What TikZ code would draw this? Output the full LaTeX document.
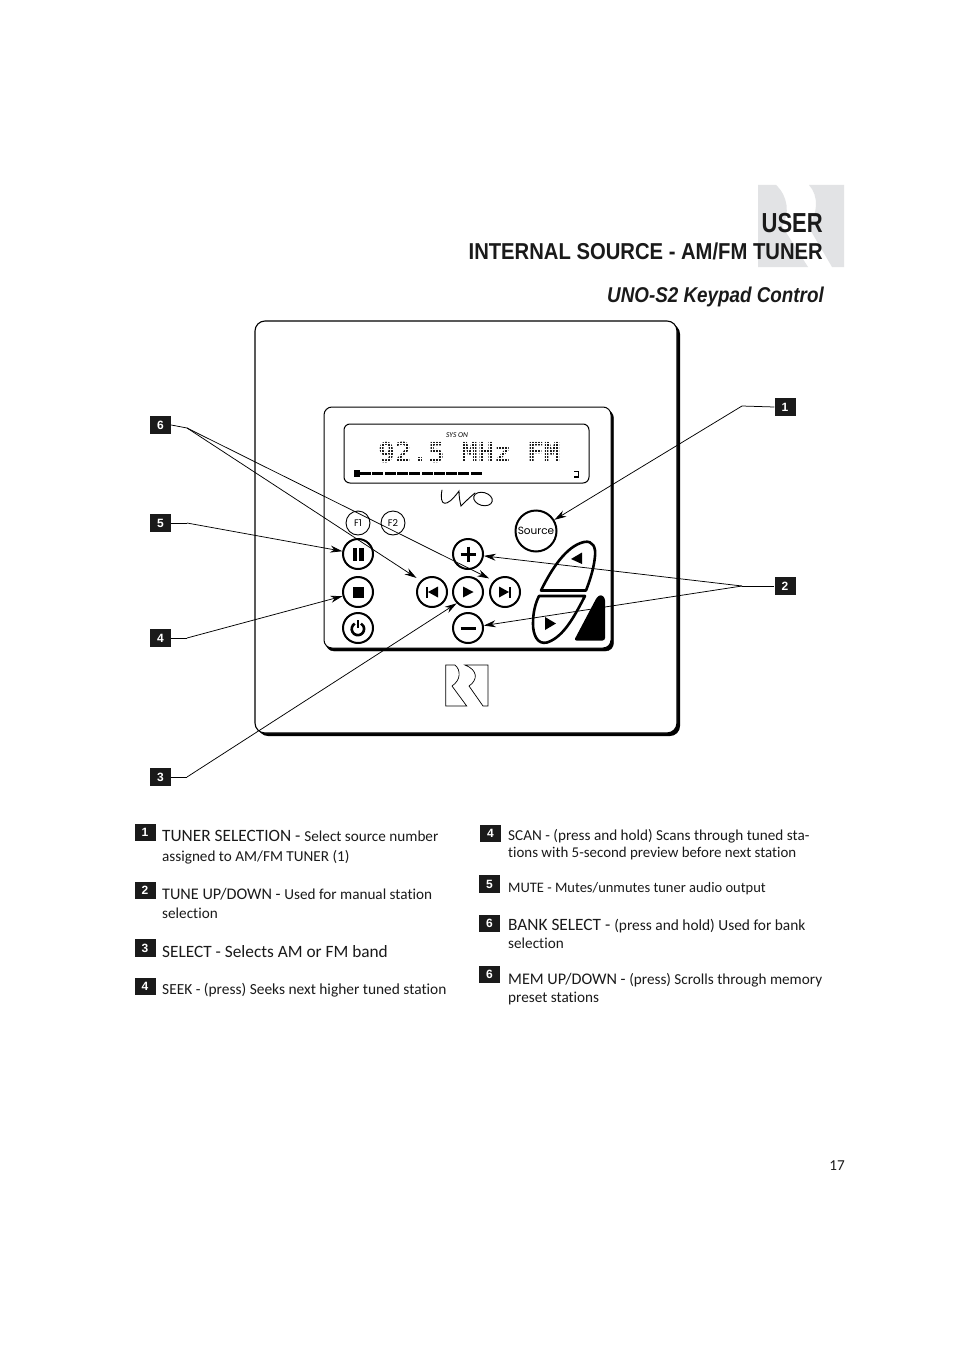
\documentclass[tikz,border=0pt]{standalone}
\usepackage{fontspec}
\setmainfont[RawFeature={-liga}]{Carlito}
\newfontfamily\headfont[FakeStretch=0.88]{Liberation Sans}
\newfontfamily\userfont[FakeStretch=0.8]{Liberation Sans}
\newfontfamily\numfont{Liberation Sans}
\newfontfamily\lcdfont{DejaVu Sans Mono}
\newfontfamily\keyfont{Poppins}
\usetikzlibrary{arrows.meta}
\definecolor{ink}{HTML}{1A1A1A}
\definecolor{logogray}{HTML}{E2E3E5}
\newcommand{\bigtxt}{\fontsize{17.3}{20}\selectfont}
\newcommand{\midtxt}{\fontsize{16.2}{20}\selectfont}
\newcommand{\smalltxt}{\fontsize{15.2}{18}\selectfont}
\newcommand{\widetxt}{\fontsize{15.4}{18}\selectfont}
\newcommand{\tionstxt}{\fontsize{14.9}{18}\selectfont}
\newcommand{\tinytxt}{\fontsize{14.5}{18}\selectfont}
\tikzset{
  legendtxt/.style={anchor=base west,inner sep=0pt,text=ink},
  numbox/.style={fill=ink,text=white,inner sep=0pt,minimum width=21pt,minimum height=17.5pt,font=\numfont\bfseries\fontsize{12}{12}\selectfont},
  keybtn/.style={circle,draw=black,line width=2pt,fill=white,inner sep=0pt,minimum size=30pt},
  fbtn/.style={circle,draw=black,line width=.9pt,inner sep=0pt,minimum size=24pt,font=\keyfont\fontsize{9.5}{9.5}\selectfont},
  conn/.style={draw=black,line width=.75pt},
  tipped/.style={conn,-{Stealth[length=12pt,width=7pt]}},
  headtxt/.style={anchor=base east,inner sep=0pt,text=ink}
}
\begin{document}
\begin{tikzpicture}[x=1pt,y=-1pt]
\useasboundingbox (0,0) rectangle (954,1351);
\fill[white] (0,0) rectangle (954,1351);
% grey logo behind the heading
\fill[logogray] (758,185) -- (776,185) .. controls (788,196) and (790,214) .. (782,226) -- (808,267) -- (758,267) -- cycle;
\fill[logogray] (809,185) -- (844,185) -- (844,267) -- (832,267) -- (808,226) .. controls (818,214) and (819,196) .. (809,185) -- cycle;
% heading
\node[headtxt,font=\userfont\bfseries\fontsize{27.5}{28}\selectfont] (huser) at (823,233) {USER};
\node[headtxt,font=\headfont\bfseries\fontsize{23}{23}\selectfont] (hsrc) at (823,259) {INTERNAL SOURCE - AM/FM TUNER};
\node[headtxt,font=\headfont\bfseries\itshape\fontsize{21.4}{21}\selectfont] (hkey) at (824,302) {UNO-S2 Keypad Control};
% wall plate
\fill[black,rounded corners=10pt] (258,324) rectangle (680,736);
\draw[fill=white,line width=1.1pt,rounded corners=10pt] (255,321) rectangle (677,733);
% keypad
\draw[black,fill=black,rounded corners=8pt] (326,410) rectangle (613.5,651);
\draw[fill=white,line width=1pt,rounded corners=8pt] (324,407) rectangle (611,648);
% display
\draw[fill=white,line width=1pt,rounded corners=6pt] (344,424) rectangle (589,483);
\node[inner sep=0pt,font=\itshape\fontsize{7.5}{8}\selectfont] (syson) at (457,435) {SYS ON};
\node[inner sep=0pt,anchor=base,font=\lcdfont\bfseries\fontsize{27.5}{27}\selectfont,text=ink] (lcd) at (469.5,462) {92.5 MHz FM};
\foreach \g in {0,...,61} \draw[white,line width=.5pt] (378+\g*3,440) -- (378+\g*3,465);
\foreach \g in {0,...,8} \draw[white,line width=.5pt] (376,440.5+\g*3) -- (562,440.5+\g*3);
\fill[black] (354,470) rectangle (360,477);
\foreach \g in {0,...,9} \fill[black] (360+\g*12.3,472.2) rectangle ++(11,2.3);
\draw[line width=1.1pt] (574,471.5) -- (578.5,471.5) -- (578.5,477) -- (574,477);
% uno logo
\draw[line width=.9pt,line cap=round] (442,490) .. controls (439,506) and (446,509) .. (459,491) .. controls (459,497) and (460,502) .. (461,506) .. controls (465,502) and (470,497) .. (475,493);
\draw[line width=.9pt,rotate around={-15:(483,499)}] (483,499) ellipse[x radius=9.5pt,y radius=6.5pt];
% buttons
\node[fbtn] (f1) at (358,523) {F1};
\node[fbtn] (f2) at (393,523) {F2};
\node[keybtn] (pause) at (358,554) {};
\node[keybtn] (stopb) at (358,592) {};
\node[keybtn] (power) at (358,628) {};
\node[keybtn] (plus) at (468,554) {};
\node[keybtn] (prev) at (432,592) {};
\node[keybtn] (play) at (468,592) {};
\node[keybtn] (next) at (505,592) {};
\node[keybtn] (minus) at (468,628) {};
\node[circle,draw=black,line width=2pt,inner sep=0pt,minimum size=41pt,font=\keyfont\fontsize{10.5}{11}\selectfont] (source) at (536,531) {Source};
% button glyphs
\fill ([shift={(-5.5,-6.5)}]pause.center) rectangle ++(4.2,13);
\fill ([shift={(1.3,-6.5)}]pause.center) rectangle ++(4.2,13);
\fill ([shift={(-5.5,-5.5)}]stopb.center) rectangle ++(11,11);
\draw[line width=2.6pt] ([shift={(-3.2,-4.4)}]power.center) arc[start angle=120,end angle=420,radius=6.2pt];
\draw[line width=2.6pt] ([shift={(0,-8)}]power.center) -- ([shift={(0,0)}]power.center);
\draw[line width=3pt] ([shift={(-7.5,0)}]plus.center) -- ([shift={(7.5,0)}]plus.center);
\draw[line width=3pt] ([shift={(0,-7.5)}]plus.center) -- ([shift={(0,7.5)}]plus.center);
\draw[line width=3pt] ([shift={(-7.5,0)}]minus.center) -- ([shift={(7.5,0)}]minus.center);
\fill ([shift={(-5,-5.5)}]play.center) -- ([shift={(5.5,0)}]play.center) -- ([shift={(-5,5.5)}]play.center) -- cycle;
\fill ([shift={(6,-5.5)}]prev.center) -- ([shift={(-4,0)}]prev.center) -- ([shift={(6,5.5)}]prev.center) -- cycle;
\fill ([shift={(-6,-5.5)}]prev.center) rectangle ++(2,11);
\fill ([shift={(-6,-5.5)}]next.center) -- ([shift={(4,0)}]next.center) -- ([shift={(-6,5.5)}]next.center) -- cycle;
\fill ([shift={(4,-5.5)}]next.center) rectangle ++(2,11);
% rocker keys
\draw[line width=2.6pt,line join=round,fill=white] (541,590.5) .. controls (551,570) and (566,546) .. (584,542) .. controls (593,540) and (596,548) .. (595,556) .. controls (594,568) and (590,580) .. (586,590.5) -- cycle;
\fill (582,552.5) -- (582,564) -- (571,559) -- cycle;
\draw[line width=2.6pt,line join=round,fill=white] (539,596) -- (585,596) .. controls (575,615) and (564,637) .. (547,642.5) .. controls (537,645) and (533,634) .. (533,624) .. controls (533,613) and (535,604) .. (539,596) -- cycle;
\fill (545,617) -- (545,630) -- (556,623.5) -- cycle;
\fill[rounded corners=2.5pt] (574,640.5) -- (597,597) -- (601,594.5) -- (605,598) -- (605,640.5) -- cycle;
% RR logo
\draw[line width=.7pt] (445.7,665) -- (455,665) .. controls (461,670) and (461,680) .. (452,686) -- (466.7,706) -- (445.7,706) -- cycle;
\draw[line width=.7pt] (465,665) -- (488,665) -- (488,706) -- (483,706) -- (469,686) .. controls (478,680) and (478,670) .. (465,665) -- cycle;
% callout numbers
\node[numbox] (c1) at (785,407) {1};
\node[numbox] (c2) at (785,586) {2};
\node[numbox] (c6) at (160.5,425) {6};
\node[numbox] (c5) at (160.5,523) {5};
\node[numbox] (c4) at (160.5,638) {4};
\node[numbox] (c3) at (160.5,777) {3};
\coordinate (e1) at (742,406);
\coordinate (e2) at (742,586);
\coordinate (e6) at (187,428);
\coordinate (e5) at (187,523);
\coordinate (e4) at (187,638);
\coordinate (e3) at (187,777);
% connectors
\draw[conn] (c1.west) -- (e1);
\draw[tipped] (e1) -- (source);
\draw[conn] (c2.west) -- (e2);
\draw[tipped] (e2) -- (plus);
\draw[tipped] (e2) -- (minus);
\draw[conn] (c6.east) -- (e6);
\draw[tipped,shorten >=5pt] (e6) -- (prev.135);
\draw[tipped,shorten >=5pt] (e6) -- (next.135);
\draw[conn] (c5.east) -- (e5);
\draw[tipped] (e5) -- (pause.170);
\draw[conn] (c4.east) -- (e4);
\draw[tipped] (e4) -- (stopb.195);
\draw[conn] (c3.east) -- (e3);
\draw[tipped] (e3) -- (play.225);
% legend, left column
\node[numbox] (n1) at (145,832.5) {1};
\node[numbox] (n2) at (145,890.5) {2};
\node[numbox] (n3) at (145,948) {3};
\node[numbox] (n4) at (145,986.5) {4};
\node[legendtxt] (t1) at (162,841) {\bigtxt TUNER SELECTION - \smalltxt Select source number};
\node[legendtxt] (t1b) at (162,861) {\smalltxt assigned to AM/FM TUNER (1)};
\node[legendtxt] (t2) at (162,899) {\midtxt TUNE UP/DOWN - \smalltxt Used for manual station};
\node[legendtxt] (t2b) at (162,918) {\smalltxt selection};
\node[legendtxt] (t3) at (162,957) {\bigtxt SELECT - Selects AM or FM band};
\node[legendtxt] (t4) at (162,994) {\widetxt SEEK - (press) Seeks next higher tuned station};
% legend, right column
\node[numbox] (m4) at (490.5,833.5) {4};
\node[numbox] (m5) at (489.5,884) {5};
\node[numbox] (m6) at (489.5,923.5) {6};
\node[numbox] (m7) at (489.5,974.5) {6};
\node[legendtxt] (r1) at (508,840) {\smalltxt SCAN - (press and hold) Scans through tuned sta-};
\node[legendtxt] (r1b) at (508,857) {\tionstxt tions with 5-second preview before next station};
\node[legendtxt] (r2) at (508,892) {\tinytxt MUTE - Mutes/unmutes tuner audio output};
\node[legendtxt] (r3) at (508,930) {\bigtxt BANK SELECT - \widetxt (press and hold) Used for bank};
\node[legendtxt] (r3b) at (508,948) {\smalltxt selection};
\node[legendtxt] (r4) at (508,984) {\midtxt MEM UP/DOWN - \smalltxt (press) Scrolls through memory};
\node[legendtxt] (r4b) at (508,1002) {\smalltxt preset stations};
% page number
\node[anchor=base east,inner sep=0pt,text=ink,font=\smalltxt] (pageno) at (845,1170) {17};
\end{tikzpicture}
\end{document}
